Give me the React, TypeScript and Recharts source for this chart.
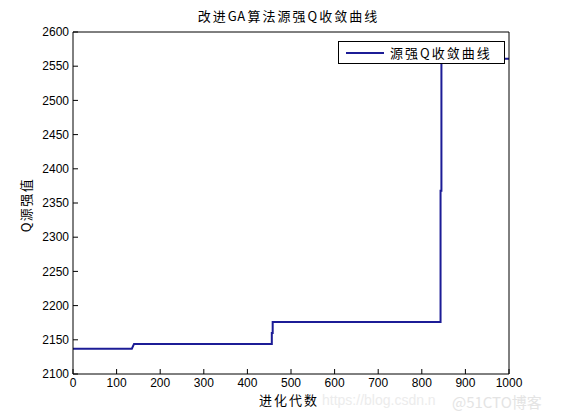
import { LineChart, Line, XAxis, YAxis } from "recharts";

// step curve of the best Q value per generation
const generations = [0, 135, 140, 456, 456, 458, 458, 843, 843, 845, 845, 1000];
const sourceQ = [2137, 2137, 2144, 2144, 2160, 2160, 2176, 2176, 2368, 2368, 2561, 2561];

const xTicks = [0, 100, 200, 300, 400, 500, 600, 700, 800, 900, 1000];
const yTicks = [2100, 2150, 2200, 2250, 2300, 2350, 2400, 2450, 2500, 2550, 2600];

const titleParts = ["改进", "GA", "算法源强Q收敛曲线"];
const seriesName = "源强Q收敛曲线";
const xLabel = "进化代数";
const yLabel = "Q源强值";

const LINE = "#1c1c96";
const NUM_FONT = "'Liberation Sans', Arial, sans-serif";
const CJK_FONT = "'Noto Sans CJK SC', 'Liberation Sans', sans-serif";

const data = generations.map((g, i) => ({ gen: g, q: sourceQ[i] }));

const tickStyle = { fill: "#000", fontSize: 12, fontFamily: NUM_FONT };

export default function App() {
  return (
    <div
      style={{
        position: "fixed",
        left: 0,
        top: 0,
        width: 561,
        height: 420,
        background: "#fff",
        overflow: "hidden",
      }}
    >
      <LineChart width={561} height={420} data={data} margin={{ top: 0, right: 0, bottom: 0, left: 0 }}>
        <XAxis
          xAxisId="b"
          dataKey="gen"
          type="number"
          domain={[0, 1000]}
          ticks={xTicks}
          interval={0}
          height={46}
          tickSize={-5}
          tickMargin={9}
          axisLine={{ stroke: "#000" }}
          tickLine={{ stroke: "#000" }}
          tick={tickStyle}
        />
        <XAxis
          xAxisId="t"
          orientation="top"
          dataKey="gen"
          type="number"
          domain={[0, 1000]}
          ticks={xTicks}
          interval={0}
          height={32}
          tickSize={-5}
          axisLine={{ stroke: "#000" }}
          tickLine={{ stroke: "#000" }}
          tick={false}
        />
        <YAxis
          yAxisId="l"
          type="number"
          domain={[2100, 2600]}
          ticks={yTicks}
          interval={0}
          width={73}
          tickSize={-5}
          tickMargin={9}
          axisLine={{ stroke: "#000" }}
          tickLine={{ stroke: "#000" }}
          tick={tickStyle}
        />
        <YAxis
          yAxisId="r"
          orientation="right"
          type="number"
          domain={[2100, 2600]}
          ticks={yTicks}
          interval={0}
          width={52}
          tickSize={-5}
          axisLine={{ stroke: "#000" }}
          tickLine={{ stroke: "#000" }}
          tick={false}
        />
        <Line
          xAxisId="b"
          yAxisId="l"
          type="linear"
          dataKey="q"
          name={seriesName}
          stroke={LINE}
          strokeWidth={2}
          dot={false}
          activeDot={false}
          isAnimationActive={false}
        />
      </LineChart>

      {/* title */}
      <div
        style={{
          position: "absolute",
          left: 0,
          width: 577,
          top: 7,
          textAlign: "center",
          fontFamily: CJK_FONT,
          fontSize: 13,
          lineHeight: "17px",
          letterSpacing: 2,
          color: "#000",
        }}
      >
        {titleParts[0]}
        <span style={{ letterSpacing: 0.5, marginRight: 2 }}>{titleParts[1]}</span>
        {titleParts[2]}
      </div>

      {/* x label */}
      <div
        style={{
          position: "absolute",
          left: 0,
          width: 578,
          top: 391,
          textAlign: "center",
          fontFamily: CJK_FONT,
          fontSize: 13,
          lineHeight: "17px",
          letterSpacing: 2,
          color: "#000",
        }}
      >
        {xLabel}
      </div>

      {/* y label */}
      <div
        style={{
          position: "absolute",
          left: 25,
          top: 205,
          transform: "translate(-50%, -50%) rotate(-90deg)",
          whiteSpace: "nowrap",
          fontFamily: CJK_FONT,
          fontSize: 13,
          lineHeight: "17px",
          letterSpacing: 1.5,
          color: "#000",
        }}
      >
        {yLabel}
      </div>

      {/* legend */}
      <div
        style={{
          position: "absolute",
          left: 338,
          top: 41,
          width: 165,
          height: 21,
          border: "1px solid #000",
          background: "#fff",
          display: "flex",
          alignItems: "center",
        }}
      >
        <div style={{ marginLeft: 7, width: 38, height: 2, background: LINE }} />
        <div
          style={{
            marginLeft: 6,
            fontFamily: CJK_FONT,
            fontSize: 13,
            lineHeight: "17px",
            letterSpacing: 2,
            color: "#000",
          }}
        >
          {seriesName}
        </div>
      </div>

      {/* watermark */}
      <div
        style={{
          position: "absolute",
          left: 322,
          top: 392,
          fontFamily: NUM_FONT,
          fontSize: 14,
          color: "#ececec",
          whiteSpace: "nowrap",
        }}
      >
        https://blog.csdn.n
      </div>
      <div
        style={{
          position: "absolute",
          left: 452,
          top: 391,
          fontFamily: CJK_FONT,
          fontSize: 15,
          color: "#e4e4e4",
          whiteSpace: "nowrap",
        }}
      >
        @51CTO博客
      </div>
    </div>
  );
}
